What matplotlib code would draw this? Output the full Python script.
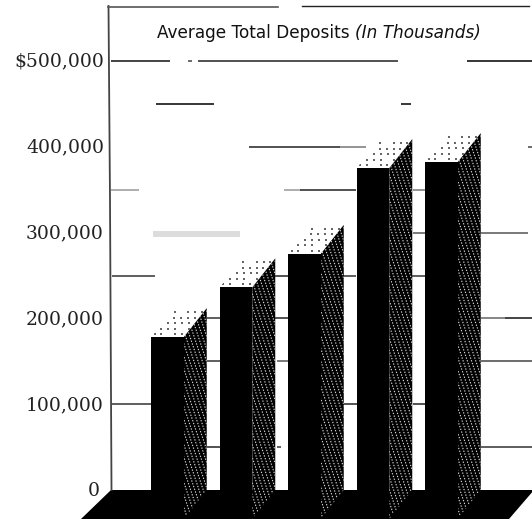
import numpy as np
import matplotlib
matplotlib.use("Agg")
import matplotlib.pyplot as plt
from matplotlib.patches import Polygon, Rectangle

# Average total deposits in thousands of dollars, read at the rear edge of each column
positions = [0, 1, 2, 3, 4]
deposits = [212, 270, 309, 409, 416]
tick_values = [0, 100, 200, 300, 400, 500]
tick_labels = ["0", "100,000", "200,000", "300,000", "400,000", "$500,000"]

# Surviving pieces of the worn rules: level -> (start px, end px, grey)
rule_pieces = {
    500: [(111, 170, "#111111"), (188, 192, "#444444"), (198, 398, "#222222"), (467, 532, "#000000")],
    450: [(156, 214, "#000000"), (401, 411, "#000000")],
    400: [(249, 340, "#222222"), (340, 366, "#777777"), (528, 532, "#444444")],
    350: [(111, 139, "#999999"), (284, 300, "#999999"), (300, 356, "#222222"), (413, 425, "#777777")],
    300: [(413, 425, "#555555"), (481, 528, "#555555")],
    250: [(112, 155, "#333333"), (275, 288, "#222222"), (343, 356, "#333333"), (412, 425, "#333333")],
    200: [(207, 220, "#333333"), (275, 288, "#222222"), (481, 505, "#666666"), (505, 532, "#111111")],
    150: [(207, 220, "#333333"), (277, 288, "#555555"), (481, 532, "#444444")],
    100: [(112, 151, "#333333"), (343, 358, "#222222"), (413, 427, "#222222")],
    50: [(207, 220, "#222222"), (277, 281, "#333333"), (481, 532, "#333333")],
}

W, H = 532, 520
PX_PER_STEP = 68.5      # horizontal pixels between columns
PX_PER_K = 0.858        # vertical pixels per thousand dollars
CENTER0 = 167.5         # pixel centre of the first column's front face
BASE_PX = 490           # pixel row of the zero line on the back wall


def xd(px):
    return (px - CENTER0) / PX_PER_STEP


def yd(px):
    return (BASE_PX - px) / PX_PER_K


DX = 23 / PX_PER_STEP   # depth of the 3-D extrusion along x
DY = 29 / PX_PER_K      # depth of the 3-D extrusion along y
BAR_W = 32.5 / PX_PER_STEP

fig = plt.figure(figsize=(W / 100, H / 100), dpi=100, facecolor="white")
ax = fig.add_axes([0, 0, 1, 1])
ax.set_xlim(xd(0), xd(W))
ax.set_ylim(yd(H), yd(0))
ax.axis("off")

# Black floor
ax.add_patch(Polygon([(xd(111), 0), (xd(534), 0), (xd(509), yd(519)), (xd(81), yd(519))],
                     closed=True, fc="black", ec="none", zorder=1))

# Back wall frame
ax.plot([xd(108.5), xd(110), xd(111.5)], [yd(6), yd(200), yd(490)], color="#444444", lw=1.3, zorder=2)
ax.plot([xd(108), xd(278)], [yd(6.5), yd(6.5)], color="#555555", lw=1.2, zorder=2)
ax.plot([xd(302), xd(529)], [yd(5.5), yd(5.5)], color="#222222", lw=1.0, zorder=2)

# Worn horizontal rules
for level, pieces in rule_pieces.items():
    for start, end, shade in pieces:
        ax.plot([xd(start), xd(end)], [level, level], color=shade, lw=1.1,
                solid_capstyle="butt", zorder=2)

# Grey smudge next to the 300,000 level
ax.add_patch(Rectangle((xd(153), yd(237)), xd(240) - xd(153), yd(231) - yd(237),
                       fc="#dcdcdc", ec="none", zorder=2))

# Tick labels
for v, lab in zip(tick_values, tick_labels):
    right = 100 if v == 0 else 104
    ax.text(xd(right), v - 1, lab, ha="right", va="center", fontsize=13.5,
            family="DejaVu Serif", color="#222222", zorder=5)

# Title, upright part followed by the italic qualifier
t = ax.text(xd(157), yd(33), "Average Total Deposits ", ha="left", va="center", fontsize=12.2,
            family="DejaVu Sans", color="#111111", zorder=5)
ax.annotate("(In Thousands)", xy=(1, 0.5), xycoords=t, xytext=(0, 0), textcoords="offset points",
            ha="left", va="center", fontsize=12.2, family="DejaVu Sans", style="italic",
            color="#111111", zorder=5)

# Columns
for pos, val in zip(positions, deposits):
    left = pos - BAR_W / 2
    right = pos + BAR_W / 2
    front_top = val - DY
    front_base = -DY

    # Speckled top face
    top = Polygon([(left, front_top), (right, front_top), (right + DX, val), (left + DX, val)],
                  closed=True, fc="white", ec="none", zorder=3)
    ax.add_patch(top)
    gx, gy = [], []
    for k, r in enumerate(np.arange(0.1, 1.0, 0.19)):
        for m, c in enumerate(np.arange(0.03, 1.0, 0.21)):
            if (k * 2 + m * 3) % 5 == 1:
                continue
            gx.append(left + (c + 0.08 * (k % 3)) * (right - left) + r * DX)
            gy.append(front_top + r * DY)
    dots = ax.scatter(gx, gy, s=0.9, marker="s", color="#666666", linewidths=0, zorder=3.1)
    dots.set_clip_path(top)

    # Side face: black with fine dotted diagonal streaks
    side = Polygon([(right, front_top), (right + DX, val), (right + DX, 0), (right, front_base)],
                   closed=True, fc="black", ec="none", zorder=3.2)
    ax.add_patch(side)
    for px_off in np.arange(-170, 30, 4.2):
        sx0 = right + px_off / PX_PER_STEP
        sx1 = sx0 + 150 / PX_PER_STEP
        line, = ax.plot([sx0, sx1], [val + 10, val + 10 - 450 / PX_PER_K], color="#d8d8d8", lw=0.8,
                        linestyle=(0, (1.2, 1.4)), zorder=3.3)
        line.set_clip_path(side)

    # Solid front face
    ax.add_patch(Rectangle((left, front_base), BAR_W, val, fc="black", ec="none", zorder=4))

fig.savefig("out.png", dpi=100, facecolor="white")
